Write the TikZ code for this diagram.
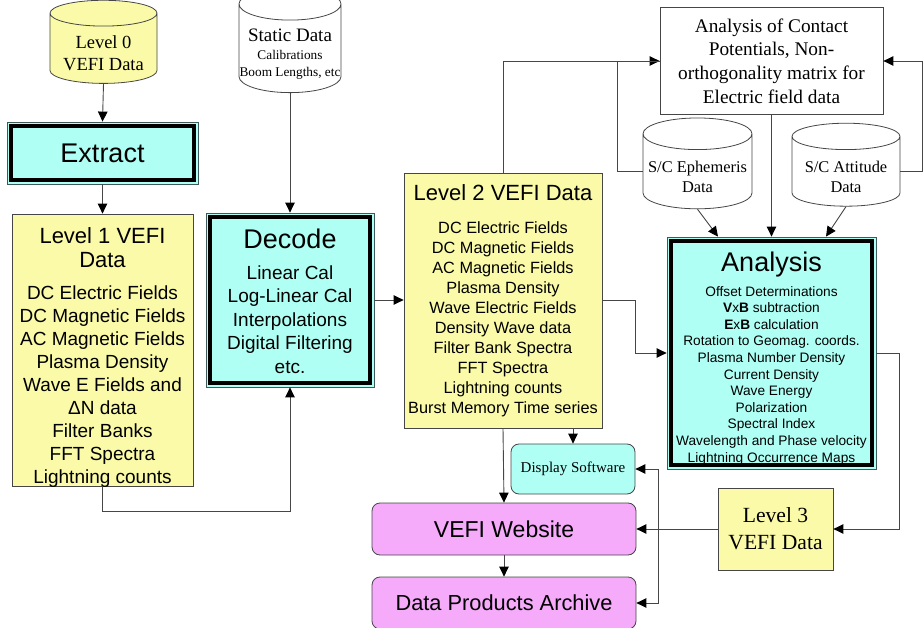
\documentclass[tikz,border=0pt]{standalone}
\usepackage{fontspec}
\setmainfont{Liberation Serif}
\setsansfont{Liberation Sans}
\usetikzlibrary{shapes.geometric,arrows.meta}
\definecolor{lvlyellow}{RGB}{250,250,168}
\definecolor{proccyan}{RGB}{175,255,245}
\definecolor{webpink}{RGB}{245,170,250}
\definecolor{edgegray}{RGB}{70,70,70}
\definecolor{frameteal}{RGB}{60,90,90}
\newcommand{\fsz}[2]{\fontsize{#1}{#2}\selectfont}
\newcommand{\ttl}{\fsz{27}{30}}
\tikzset{
  lvlbox/.style={draw=edgegray, fill=lvlyellow, line width=0.8pt, align=center, inner sep=0pt},
  procbox/.style={draw=frameteal, fill=proccyan, line width=0.8pt, align=center, inner sep=0pt},
  softbox/.style={draw=edgegray, rounded corners=8pt, line width=0.8pt, align=center, inner sep=0pt},
  dbase/.style={cylinder, shape border rotate=90, shape aspect=0.32, draw=edgegray, line width=0.8pt, align=center, inner sep=0pt},
  flow/.style={draw=edgegray, line width=0.9pt, -{Triangle[length=10pt,width=9.5pt,color=black]}},
  link/.style={draw=edgegray, line width=0.9pt},
  textdrop/.style={text depth=0pt, text height=#1},
}
\begin{document}
\begin{tikzpicture}[x=1pt,y=-1pt]
\useasboundingbox (0,0) rectangle (924,628);
% data sources
\node[dbase, fill=lvlyellow, font=\fsz{18.5}{22}, textdrop=44pt, minimum width=107pt, minimum height=83pt] (lv0) at (103.5,48.5)
  {Level 0\\VEFI Data};
\node[dbase, fill=white, font=\fsz{13.3}{17}, textdrop=56pt, minimum width=102pt, minimum height=83pt] (stat) at (290,48.5)
  {\fsz{19}{19}Static Data\\[1pt]Calibrations\\Boom Lengths, etc};
\node[dbase, fill=white, font=\fsz{16.4}{20}, textdrop=43pt, minimum width=109pt, minimum height=81pt] (eph) at (697.5,171.5)
  {S/C Ephemeris\\Data};
\node[dbase, fill=white, font=\fsz{16.4}{20}, textdrop=43pt, minimum width=108pt, minimum height=81pt] (att) at (846,171.5)
  {S/C Attitude\\Data};
% processing steps
\node[procbox, font=\sffamily\fsz{27}{30}, minimum width=191pt, minimum height=62pt] (ext) at (102.5,153)
  {Extract};
\node[procbox, font=\sffamily\fsz{19}{23.5}, textdrop=147pt, minimum width=168pt, minimum height=174pt] (dec) at (290,300)
  {\ttl Decode\\[7pt]Linear Cal\\Log-Linear Cal\\Interpolations\\Digital Filtering\\etc.};
\node[procbox, font=\sffamily\fsz{13.7}{16.6}, textdrop=218pt, minimum width=209pt, minimum height=232pt] (ana) at (771.5,353)
  {\ttl Analysis\\[8pt]Offset Determinations\\\textbf{V}x\textbf{B} subtraction\\
   \textbf{E}x\textbf{B} calculation\\Rotation to Geomag. coords.\\Plasma Number Density\\Current Density\\
   Wave Energy\\Polarization\\Spectral Index\\Wavelength and Phase velocity\\Lightning Occurrence Maps};
\foreach \b in {ext,dec,ana}
  \draw[line width=3.5pt] ([xshift=4.5pt,yshift=-4.5pt]\b.north west) rectangle ([xshift=-4.5pt,yshift=4.5pt]\b.south east);
% data levels
\node[lvlbox, font=\sffamily\fsz{19}{22.9}, textdrop=266pt, minimum width=181pt, minimum height=272pt] (lv1) at (102.5,350)
  {\fsz{22}{25}Level 1 VEFI\\[2pt]\fsz{22}{25}Data\\[9pt]DC Electric Fields\\DC Magnetic Fields\\AC Magnetic Fields\\
   Plasma Density\\Wave E Fields and\\ΔN data\\Filter Banks\\FFT Spectra\\Lightning counts};
\node[lvlbox, font=\sffamily\fsz{16.3}{19.9}, textdrop=225pt, minimum width=198pt, minimum height=255pt] (lv2) at (503,300.5)
  {\fsz{22}{25}Level 2 VEFI Data\\[14pt]DC Electric Fields\\DC Magnetic Fields\\AC Magnetic Fields\\
   Plasma Density\\Wave Electric Fields\\Density Wave data\\Filter Bank Spectra\\FFT Spectra\\
   Lightning counts\\Burst Memory Time series};
\node[lvlbox, font=\fsz{21.6}{27}, minimum width=115pt, minimum height=82pt] (lv3) at (775.5,529)
  {Level 3\\VEFI Data};
\node[draw=edgegray, fill=white, line width=0.8pt, align=center, inner sep=0pt, font=\fsz{19.3}{23.7},
  minimum width=223pt, minimum height=107pt] (con) at (771.5,61)
  {Analysis of Contact\\Potentials, Non-\\orthogonality matrix for\\Electric field data};
% outputs
\node[softbox, fill=proccyan, font=\fsz{15}{18}, minimum width=124pt, minimum height=50pt] (dsp) at (573,469)
  {Display Software};
\node[softbox, fill=webpink, font=\sffamily\fsz{23}{26}, minimum width=264pt, minimum height=52pt] (web) at (504,529)
  {VEFI Website};
\node[softbox, fill=webpink, font=\sffamily\fsz{21.8}{25}, minimum width=264pt, minimum height=52pt] (arc) at (504,603)
  {Data Products Archive};
% connectors
\draw[flow] (lv0.south) -- (ext.north);
\draw[flow] (ext.south) -- (lv1.north);
\draw[flow] (stat.south) -- (dec.north);
\draw[flow] (lv1.south) -- ++(0,25) -| (dec.south);
\draw[flow] (dec.east) -- (dec.east -| lv2.west);
\draw[flow] (lv2.north) |- (con.west);
\draw[link] (eph.west) -- ++(-25,0) |- (con.west);
\draw[flow] (att.east) -- ++(22,0) |- (con.east);
\draw[flow] (con.south) -- (ana.north);
\draw[flow] (eph.south) -- ([xshift=-53.5pt]ana.north);
\draw[flow] (att.south) -- ([xshift=54.5pt]ana.north);
\draw[flow] (lv2.east |- dec.east) -- ++(33,0) |- (ana.west);
\draw[flow] (ana.east) -- ++(23,0) |- (lv3.east);
\draw[flow] (lv3.west) -- (web.east);
\coordinate (hub) at (658,529);
\draw[flow] (hub) |- (dsp.east);
\draw[flow] (hub) |- (arc.east);
\draw[flow] (lv2.south) -- (web.north);
\draw[flow] (dsp.north |- lv2.south) -- (dsp.north);
\draw[flow] (web.south) -- (arc.north);
\end{tikzpicture}
\end{document}
